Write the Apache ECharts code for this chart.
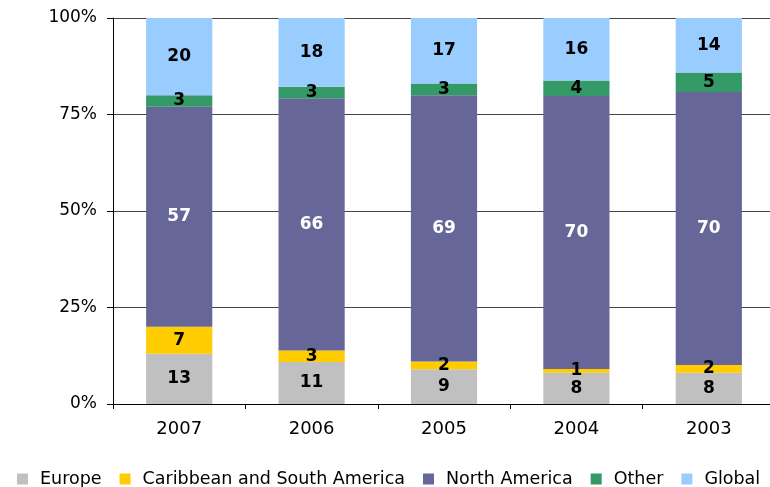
<!DOCTYPE html>
<html>
<head>
<meta charset="utf-8">
<script src="https://cdn.jsdelivr.net/npm/echarts@6/dist/echarts.min.js"></script>
<style>
  html, body { margin: 0; padding: 0; background: #fff; }
  #chart { width: 770px; height: 487px; }
</style>
</head>
<body>
<div id="chart"></div>
<script>
// Years shown left to right
const years = ['2007', '2006', '2005', '2004', '2003'];

// Share by region for each year (labels show these numbers)
const europe = [13, 11, 9, 8, 8];
const caribbeanSouthAmerica = [7, 3, 2, 1, 2];
const northAmerica = [57, 66, 69, 70, 70];
const other = [3, 3, 3, 4, 5];
const global = [20, 18, 17, 16, 14];

const yTicks = [0, 25, 50, 75, 100];

const seriesDefs = [
  { name: 'Europe', values: europe, color: '#C0C0C0', labelColor: '#000' },
  { name: 'Caribbean and South America', values: caribbeanSouthAmerica, color: '#FFCC00', labelColor: '#000' },
  { name: 'North America', values: northAmerica, color: '#666699', labelColor: '#fff' },
  { name: 'Other', values: other, color: '#339966', labelColor: '#000' },
  { name: 'Global', values: global, color: '#99CCFF', labelColor: '#000' }
];

// Column totals, used to stack each year to 100%
const totals = years.map((_, i) => seriesDefs.reduce((s, d) => s + d.values[i], 0));

const FONT = 'DejaVu Sans';

const chart = echarts.init(document.getElementById('chart'), null, { renderer: 'canvas' });

chart.setOption({
  animation: false,
  backgroundColor: '#fff',
  grid: {
    left: 113,
    top: 18,
    width: 662,
    height: 386,
    containLabel: false,
    outerBoundsMode: 'none'
  },
  legend: {
    left: 12,
    top: 465,
    itemWidth: 11,
    itemHeight: 11,
    itemGap: 18,
    icon: 'rect',
    textStyle: {
      fontFamily: FONT,
      fontSize: 17.5,
      color: '#000',
      padding: [0, 0, 0, 7]
    },
    data: seriesDefs.map(d => d.name)
  },
  xAxis: {
    type: 'category',
    data: years,
    boundaryGap: true,
    axisLine: { show: true, lineStyle: { color: '#000', width: 1 } },
    axisTick: { show: true, alignWithLabel: false, length: 5, lineStyle: { color: '#000' } },
    axisLabel: { fontFamily: FONT, fontSize: 18, color: '#000', margin: 16 },
    splitLine: { show: false }
  },
  yAxis: {
    type: 'value',
    min: yTicks[0],
    max: yTicks[yTicks.length - 1],
    interval: 25,
    axisLine: { show: true, lineStyle: { color: '#000', width: 1 } },
    axisTick: { show: true, inside: false, length: 6, lineStyle: { color: '#000' } },
    axisLabel: {
      fontFamily: FONT,
      fontSize: 17,
      color: '#000',
      margin: 16,
      formatter: v => v + '%'
    },
    splitLine: { show: true, lineStyle: { color: '#444', width: 1 } }
  },
  series: seriesDefs.map(d => ({
    name: d.name,
    type: 'bar',
    stack: 'share',
    barWidth: '50%',
    itemStyle: { color: d.color },
    label: {
      show: true,
      position: 'inside',
      fontFamily: FONT,
      fontWeight: 'bold',
      fontSize: 17,
      color: d.labelColor,
      formatter: p => String(d.values[p.dataIndex])
    },
    data: d.values.map((v, i) => v / totals[i] * 100)
  }))
});
</script>
</body>
</html>
